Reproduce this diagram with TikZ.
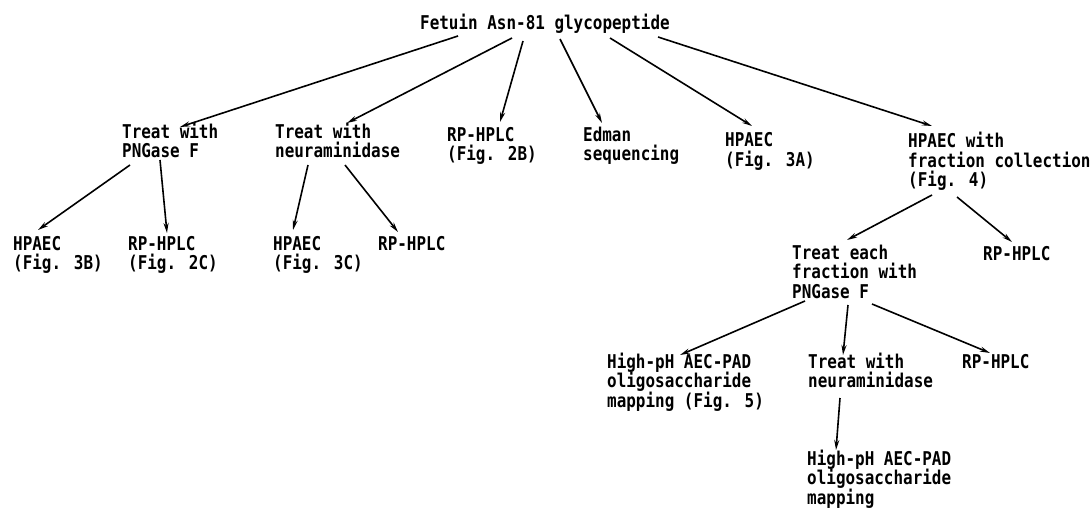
\documentclass[tikz,border=0pt]{standalone}
\usepackage{fontspec}
\usetikzlibrary{arrows.meta}
\newfontfamily\twfont{DejaVu Sans Mono}[FakeStretch=0.839]
\newcommand\ml[1]{\vtop{\baselineskip=19.5pt\lineskiplimit=-30pt\lineskip=0pt
  \let\\\cr\halign{##\hfil\cr#1\crcr}}}
\tikzset{
  lbl/.style={anchor=base west, inner sep=0pt,
    font=\twfont\bfseries\fontsize{19}{19.5}\selectfont},
  arr/.style={line width=1.6pt, -{Stealth[length=10pt,width=5pt]}}
}
\begin{document}
\begin{tikzpicture}[x=1pt,y=-1pt]
\useasboundingbox (0,0) rectangle (1092,508);
% nodes
\node[lbl] (root) at (420,29.5) {Fetuin Asn-81 glycopeptide};
\node[lbl] (tp)  at (122,138.5) {\ml{Treat with\\PNGase F}};
\node[lbl] (tn)  at (275,138.5) {\ml{Treat with\\neuraminidase}};
\node[lbl] (rp2b) at (447,141.5) {\ml{RP-HPLC\\(Fig. 2B)}};
\node[lbl] (ed)  at (583,141.5) {\ml{Edman\\sequencing}};
\node[lbl] (h3a) at (725,146.5) {\ml{HPAEC\\(Fig. 3A)}};
\node[lbl] (hw)  at (908,148) {\ml{HPAEC with\\fraction collection\\(Fig. 4)}};
\node[lbl] (h3b) at (13,250) {\ml{HPAEC\\(Fig. 3B)}};
\node[lbl] (rp2c) at (128,250) {\ml{RP-HPLC\\(Fig. 2C)}};
\node[lbl] (h3c) at (273,250) {\ml{HPAEC\\(Fig. 3C)}};
\node[lbl] (rpn) at (378,250) {RP-HPLC};
\node[lbl] (te)  at (792,259) {\ml{Treat each\\fraction with\\PNGase F}};
\node[lbl] (rpr) at (983,260) {RP-HPLC};
\node[lbl] (hia) at (607,368) {\ml{High-pH AEC-PAD\\oligosaccharide\\mapping (Fig. 5)}};
\node[lbl] (twn) at (808,368) {\ml{Treat with\\neuraminidase}};
\node[lbl] (rpb) at (962,368) {RP-HPLC};
\node[lbl] (hib) at (807,465) {\ml{High-pH AEC-PAD\\oligosaccharide\\mapping}};
% connectors
\draw[arr] ([shift={(38,6.5)}]root.base west) -- ([shift={(58,-11.5)}]tp.base west);
\draw[arr] ([shift={(92,8.5)}]root.base west) -- ([shift={(72,-15.5)}]tn.base west);
\draw[arr] ([shift={(103,11.5)}]root.base west) -- ([shift={(53,-19.5)}]rp2b.base west);
\draw[arr] ([shift={(140,9.5)}]root.base west) -- ([shift={(19,-18.5)}]ed.base west);
\draw[arr] ([shift={(190,8.5)}]root.base west) -- ([shift={(27,-20.5)}]h3a.base west);
\draw[arr] ([shift={(238,7.5)}]root.base west) -- ([shift={(24,-22)}]hw.base west);
\draw[arr] ([shift={(8,26.5)}]tp.base west) -- ([shift={(25,-20)}]h3b.base west);
\draw[arr] ([shift={(38,21.5)}]tp.base west) -- ([shift={(39,-17)}]rp2c.base west);
\draw[arr] ([shift={(33,26.5)}]tn.base west) -- ([shift={(20,-20)}]h3c.base west);
\draw[arr] ([shift={(70,26.5)}]tn.base west) -- ([shift={(20,-18)}]rpn.base west);
\draw[arr] ([shift={(24,47)}]hw.base west) -- ([shift={(55,-19)}]te.base west);
\draw[arr] ([shift={(49,49)}]hw.base west) -- ([shift={(29,-18)}]rpr.base west);
\draw[arr] ([shift={(13,42)}]te.base west) -- ([shift={(73,-13)}]hia.base west);
\draw[arr] ([shift={(56,46)}]te.base west) -- ([shift={(35,-13)}]twn.base west);
\draw[arr] ([shift={(80,45)}]te.base west) -- ([shift={(28,-15)}]rpb.base west);
\draw[arr] ([shift={(32,30)}]twn.base west) -- ([shift={(29,-15)}]hib.base west);
\end{tikzpicture}
\end{document}
